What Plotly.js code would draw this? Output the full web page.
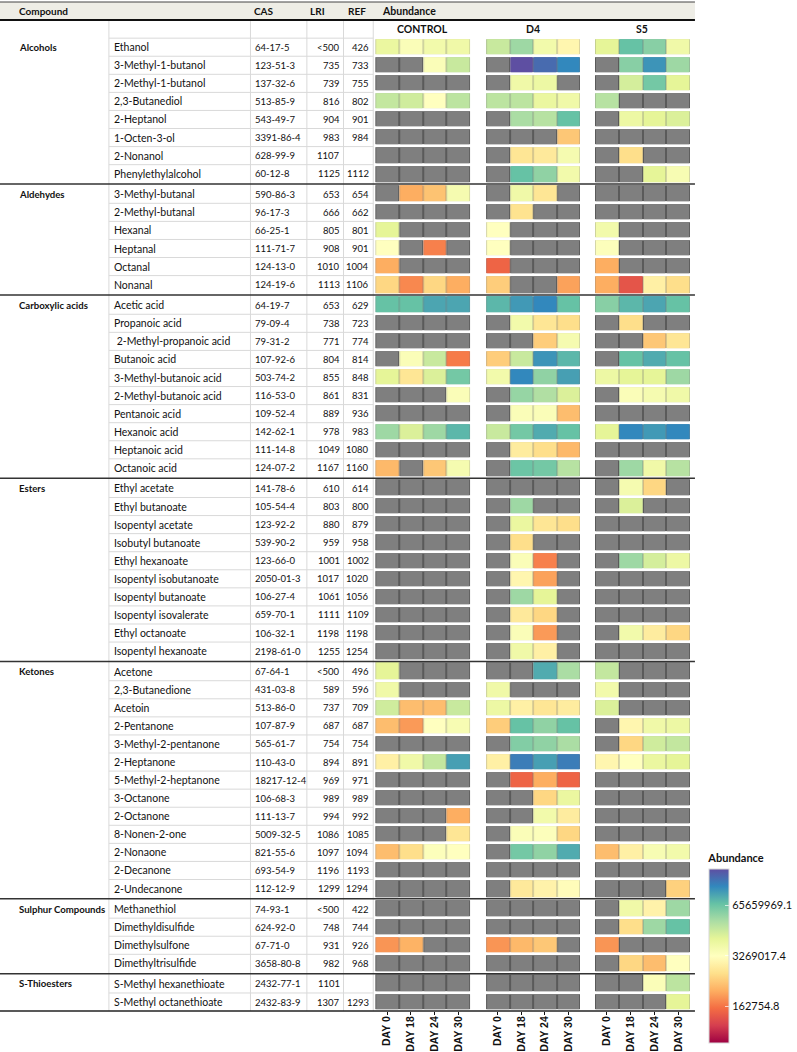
<!DOCTYPE html>
<html>
<head>
<meta charset="utf-8">
<script src="https://cdn.plot.ly/plotly-3.0.1.min.js"></script>
<style>
  html, body { margin: 0; padding: 0; background: #fff; overflow: hidden; }
  #chart { width: 797px; height: 1052px; }
</style>
</head>
<body>
<div id="chart"></div>
<script>
// Table + heatmap: volatile compounds, abundance per treatment and day
const n = null;

const categories = ['Alcohols', 'Aldehydes', 'Carboxylic acids', 'Esters', 'Ketones', 'Sulphur Compounds', 'S-Thioesters'];
const groupSizes = [8, 6, 10, 10, 13, 4, 2];

const compounds = [
  'Ethanol', '3-Methyl-1-butanol', '2-Methyl-1-butanol', '2,3-Butanediol', '2-Heptanol', '1-Octen-3-ol', '2-Nonanol', 'Phenylethylalcohol',
  '3-Methyl-butanal', '2-Methyl-butanal', 'Hexanal', 'Heptanal', 'Octanal', 'Nonanal',
  'Acetic acid', 'Propanoic acid', ' 2-Methyl-propanoic acid', 'Butanoic acid', '3-Methyl-butanoic acid', '2-Methyl-butanoic acid', 'Pentanoic acid', 'Hexanoic acid', 'Heptanoic acid', 'Octanoic acid',
  'Ethyl acetate', 'Ethyl butanoate', 'Isopentyl acetate', 'Isobutyl butanoate', 'Ethyl hexanoate', 'Isopentyl isobutanoate', 'Isopentyl butanoate', 'Isopentyl isovalerate', 'Ethyl octanoate', 'Isopentyl hexanoate',
  'Acetone', '2,3-Butanedione', 'Acetoin', '2-Pentanone', '3-Methyl-2-pentanone', '2-Heptanone', '5-Methyl-2-heptanone', '3-Octanone', '2-Octanone', '8-Nonen-2-one', '2-Nonaone', '2-Decanone', '2-Undecanone',
  'Methanethiol', 'Dimethyldisulfide', 'Dimethylsulfone', 'Dimethyltrisulfide',
  'S-Methyl hexanethioate', 'S-Methyl octanethioate'
];

const casNumbers = [
  '64-17-5', '123-51-3', '137-32-6', '513-85-9', '543-49-7', '3391-86-4', '628-99-9', '60-12-8',
  '590-86-3', '96-17-3', '66-25-1', '111-71-7', '124-13-0', '124-19-6',
  '64-19-7', '79-09-4', '79-31-2', '107-92-6', '503-74-2', '116-53-0', '109-52-4', '142-62-1', '111-14-8', '124-07-2',
  '141-78-6', '105-54-4', '123-92-2', '539-90-2', '123-66-0', '2050-01-3', '106-27-4', '659-70-1', '106-32-1', '2198-61-0',
  '67-64-1', '431-03-8', '513-86-0', '107-87-9', '565-61-7', '110-43-0', '18217-12-4', '106-68-3', '111-13-7', '5009-32-5', '821-55-6', '693-54-9', '112-12-9',
  '74-93-1', '624-92-0', '67-71-0', '3658-80-8',
  '2432-77-1', '2432-83-9'
];

const lriValues = [
  '<500', '735', '739', '816', '904', '983', '1107', '1125',
  '653', '666', '805', '908', '1010', '1113',
  '653', '738', '771', '804', '855', '861', '889', '978', '1049', '1167',
  '610', '803', '880', '959', '1001', '1017', '1061', '1111', '1198', '1255',
  '<500', '589', '737', '687', '754', '894', '969', '989', '994', '1086', '1097', '1196', '1299',
  '<500', '748', '931', '982',
  '1101', '1307'
];

const refValues = [
  '426', '733', '755', '802', '901', '984', '', '1112',
  '654', '662', '801', '901', '1004', '1106',
  '629', '723', '774', '814', '848', '831', '936', '983', '1080', '1160',
  '614', '800', '879', '958', '1002', '1020', '1056', '1109', '1198', '1254',
  '496', '596', '709', '687', '754', '891', '971', '989', '992', '1085', '1094', '1193', '1294',
  '422', '744', '926', '968',
  '', '1293'
];

const days = ['DAY 0', 'DAY 18', 'DAY 24', 'DAY 30'];
const treatments = ['CONTROL', 'D4', 'S5'];

// log10(abundance) read from the colours; null = not detected (grey)
const controlLog = [
  [6.87, 6.60, 6.74, 6.78], [n, n, 6.60, 7.19], [n, n, n, n], [7.23, 7.14, 6.51, 7.28], [n, n, n, n], [n, n, n, n], [n, n, n, n], [n, n, n, n],
  [n, 5.62, 5.80, 6.69], [n, n, n, n], [6.96, n, n, n], [6.51, n, 5.30, n], [5.62, n, n, n], [5.98, 5.35, 5.98, 5.62],
  [7.86, 7.86, 8.09, 8.09], [n, n, n, n], [n, n, n, n], [n, 6.60, 7.19, 5.26], [6.96, 6.15, 7.05, 7.77], [n, n, n, 6.60], [n, n, n, n], [7.50, 7.05, 7.50, 7.95], [n, n, n, n], [5.71, n, 5.84, 6.69],
  [n, n, n, n], [n, n, n, n], [n, n, n, n], [n, n, n, n], [n, n, n, n], [n, n, n, n], [n, n, n, n], [n, n, n, n], [n, n, n, n], [n, n, n, n],
  [6.96, n, n, n], [6.78, n, n, n], [7.14, 5.75, 5.75, 7.19], [5.75, 5.48, 6.51, 6.65], [n, n, n, n], [6.29, 6.78, 7.23, 8.13], [n, n, n, n], [n, n, n, n], [n, n, n, 5.62], [n, n, n, 6.15], [5.75, 6.06, 6.56, 6.51], [n, n, n, n], [n, n, n, n],
  [n, n, n, n], [n, n, n, n], [5.44, 5.66, n, n], [n, n, n, n],
  [n, n, n, n], [n, n, n, n]
];

const d4Log = [
  [7.19, 7.50, 6.74, 6.38], [n, 8.76, 8.54, 8.31], [n, 6.78, 6.83, n], [7.28, 7.28, 6.87, 6.78], [n, 7.41, 7.32, 7.86], [n, n, n, 5.84], [n, 6.15, 6.20, 6.69], [n, 7.86, 7.59, 6.74],
  [n, 6.78, 6.15, n], [n, 6.11, n, n], [6.51, n, n, n], [6.51, n, n, n], [5.08, n, n, n], [5.89, n, n, 5.53],
  [7.95, 8.18, 8.31, 7.86], [n, 6.74, 6.15, 6.06], [n, n, 5.89, 6.69], [5.89, 7.19, 8.22, 7.95], [6.74, 8.31, 7.59, 8.13], [n, 7.55, 7.37, 7.05], [n, 6.60, 6.60, 5.75], [7.19, 7.77, 8.04, 7.86], [n, 6.24, 6.06, 5.71], [n, 7.82, 7.77, 7.32],
  [n, n, n, n], [n, 7.50, n, n], [n, 6.87, 6.15, 6.06], [n, 6.06, n, n], [n, 6.60, 5.30, n], [n, 6.38, 5.53, n], [n, 7.50, 6.96, n], [n, 6.20, 5.98, n], [n, 6.60, 5.48, n], [n, 6.78, 6.29, n],
  [n, n, 8.04, 7.41], [6.78, n, n, n], [6.83, 6.29, 6.15, 6.24], [5.89, 7.86, 7.59, 7.86], [n, 7.68, 7.59, 7.41], [6.29, 8.40, 8.13, 8.40], [n, 5.08, 5.62, 5.08], [n, n, 5.98, 6.87], [n, n, 6.74, 6.24], [n, 6.60, 6.56, 5.98], [n, 7.77, 7.59, 8.04], [n, n, n, n], [n, 6.20, 6.33, 6.47],
  [n, n, n, n], [n, n, n, n], [5.44, 5.71, 5.84, n], [n, n, n, n],
  [n, n, n, n], [n, n, n, n]
];

const s5Log = [
  [6.96, 7.86, 7.64, 6.78], [n, 7.64, 8.22, 7.50], [n, 7.10, 7.77, 6.96], [7.32, n, n, n], [n, 6.83, 6.96, 7.05], [n, n, n, n], [n, 6.06, n, n], [n, n, 6.96, 6.65],
  [n, n, n, n], [n, n, n, n], [6.74, n, n, n], [6.56, n, n, n], [5.62, n, n, n], [5.62, 4.94, 6.29, 6.06],
  [7.64, 7.95, 8.09, 7.86], [n, 6.06, n, n], [n, n, 5.84, 6.15], [n, 7.86, 8.04, 7.86], [6.83, 6.96, 6.96, 7.50], [n, 6.60, 6.69, 6.78], [n, n, n, n], [6.96, 8.31, 8.18, 8.31], [n, n, n, n], [n, 7.50, 6.78, 7.32],
  [n, 6.69, 5.98, n], [n, 7.05, n, n], [n, n, n, n], [n, n, n, n], [n, 7.50, 7.10, 6.83], [n, n, n, n], [n, n, n, n], [n, n, n, n], [n, 6.74, 6.24, 5.98], [n, n, n, n],
  [7.23, n, n, n], [6.74, n, n, n], [7.05, n, n, n], [n, 6.38, 6.78, 6.83], [n, 5.98, 7.14, 7.23], [6.38, 6.51, 6.87, 6.96], [n, n, n, n], [n, n, n, n], [n, n, n, n], [n, n, n, n], [5.75, 6.29, 6.65, 6.74], [n, n, n, n], [n, n, n, 5.93],
  [n, 6.78, 6.33, 7.50], [n, 6.06, 7.50, 7.86], [5.44, n, n, n], [n, 5.98, 5.75, 6.51],
  [n, n, 6.60, 7.28], [n, n, n, 6.96]
];

const colorbarTicks = [162754.8, 3269017.4, 65659969.1];

// ---- layout constants (pixels) ----
const W = 797, H = 1052;
const ROW_PX = 18.07, ROW0_PX = 47.2, PLOT_BOTTOM = 1011;
const GROUP_GAP = 0.14;
const Y_TOP = -ROW0_PX / ROW_PX;
const Y_BOTTOM = (PLOT_BOTTOM - ROW0_PX) / ROW_PX;
const Z_MIN = 4.268, Z_MAX = 8.76;
const GROUP_PX = [[379, 475], [491, 586], [601, 697]];
const TABLE_RIGHT = 702;
const COL_LINES = [110, 253, 310, 347, 377];

const SPECTRAL = ['#9e0142', '#d53e4f', '#f46d43', '#fdae61', '#fee08b', '#ffffbf', '#e6f598', '#abdda4', '#66c2a5', '#3288bd', '#5e4fa2'];
const escala = SPECTRAL.map((c, i) => [i / 10, c]);

function mezclar(hex, gris, t) {
  const r = parseInt(hex.slice(1, 3), 16), g = parseInt(hex.slice(3, 5), 16), b = parseInt(hex.slice(5, 7), 16);
  const m = v => Math.round(v * (1 - t) + gris * t);
  return `rgb(${m(r)},${m(g)},${m(b)})`;
}
const escalaBorde = SPECTRAL.map((c, i) => [i / 10, mezclar(c, 120, 0.3)]);

// row positions with a small extra space between compound classes
const rowY = [];
const groupFirst = [];
let idx = 0;
groupSizes.forEach((size, gi) => {
  groupFirst.push(idx);
  for (let k = 0; k < size; k++) {
    rowY.push(idx + gi * GROUP_GAP);
    idx++;
  }
});

const FONT = 'Lato, "Open Sans", sans-serif';
const traces = [];
const series = [controlLog, d4Log, s5Log];

series.forEach((z, gi) => {
  const xa = gi === 0 ? 'x' : 'x' + (gi + 1);
  const missing = z.map(r => r.map(v => (v === null ? 1 : null)));
  const base = { type: 'heatmap', x: days, y: rowY, xaxis: xa, yaxis: 'y', ygap: 3, hoverinfo: 'skip', showscale: false };
  traces.push({ ...base, z: missing, colorscale: [[0, '#5a5a5a'], [1, '#5a5a5a']], xgap: 0 });
  traces.push({ ...base, z: missing, colorscale: [[0, '#7f7f7f'], [1, '#7f7f7f']], xgap: 2 });
  traces.push({ ...base, z: z, colorscale: escalaBorde, zmin: Z_MIN, zmax: Z_MAX, xgap: 0 });
  const datos = { ...base, z: z, colorscale: escala, zmin: Z_MIN, zmax: Z_MAX, xgap: 2 };
  if (gi === 0) {
    datos.showscale = true;
    datos.colorbar = {
      x: 716 / W, xanchor: 'left', xpad: 0, ypad: 0,
      y: (PLOT_BOTTOM - 1043) / PLOT_BOTTOM, yanchor: 'bottom',
      thickness: 20, lenmode: 'pixels', len: 192,
      outlinewidth: 1, outlinecolor: '#d8d8d8',
      tickvals: colorbarTicks.map(v => Math.log10(v)),
      ticktext: colorbarTicks.map(v => v.toFixed(1)),
      ticks: 'inside', ticklen: 4, tickcolor: 'rgba(255,255,255,0.7)',
      tickfont: { family: FONT, size: 11, color: '#111' },
      title: { text: 'Abundance', side: 'top', font: { family: FONT, size: 11, color: '#111', weight: 'bold' } },
    };
  }
  traces.push(datos);
});

// dummy trace so the table axis exists
traces.push({ type: 'scatter', x: [0], y: [0], xaxis: 'x4', yaxis: 'y', mode: 'markers', marker: { opacity: 0 }, hoverinfo: 'skip' });

const esc = s => s.replace(/</g, '&lt;');
const annotations = [];
const txt = (x, y, text, anchor, size, weight) => annotations.push({
  xref: 'x4', yref: 'y', x, y, text: esc(text), xanchor: anchor, yanchor: 'middle', showarrow: false,
  font: { family: FONT, size, color: '#111', weight: weight || 'normal' },
});

// header
const HEADER_Y = (11 - ROW0_PX) / ROW_PX;
txt(17, HEADER_Y, 'Compound', 'left', 10, 'bold');
txt(255, HEADER_Y, 'CAS', 'left', 10, 'bold');
txt(311, HEADER_Y, 'LRI', 'left', 10, 'bold');
txt(349, HEADER_Y, 'REF', 'left', 10, 'bold');
txt(384, HEADER_Y, 'Abundance', 'left', 10.5, 'bold');

// table rows
compounds.forEach((name, i) => {
  txt(113, rowY[i], name, 'left', 10.5);
  txt(256, rowY[i], casNumbers[i], 'left', 9.5);
  txt(345, rowY[i], lriValues[i], 'right', 9.5);
  txt(375, rowY[i], refValues[i], 'right', 9.5);
});
categories.forEach((cat, gi) => txt(17, rowY[groupFirst[gi]], cat, 'left', 9.6, 'bold'));

// treatment labels over each block
treatments.forEach((t, gi) => annotations.push({
  xref: gi === 0 ? 'x' : 'x' + (gi + 1), yref: 'y', x: 1.5, y: -1, text: t, showarrow: false,
  xanchor: 'center', yanchor: 'middle', font: { family: FONT, size: 10.5, color: '#111', weight: 'bold' },
}));

// grid lines and separators
const shapes = [];
const linea = (x0, x1, y0, y1, color, width, yref) => shapes.push({
  type: 'line', xref: 'x4', yref: yref || 'y', x0, x1, y0, y1, line: { color, width }, layer: 'above',
});
const Y_HEAD_TOP = (2 - ROW0_PX) / ROW_PX;
const Y_HEAD_BOT = -1.5;
shapes.push({ type: 'rect', xref: 'x4', yref: 'y', x0: 0, x1: TABLE_RIGHT, y0: Y_HEAD_TOP, y1: Y_HEAD_BOT, fillcolor: '#eeede6', line: { width: 0 }, layer: 'below' });
linea(0, TABLE_RIGHT, Y_HEAD_TOP, Y_HEAD_TOP, '#444', 1);

const lastRow = rowY.length - 1;
const separators = groupFirst.slice(1).map(f => (rowY[f - 1] + rowY[f]) / 2);
// light horizontal lines of the table
linea(COL_LINES[0], COL_LINES[4], -0.5, -0.5, '#d9d9d9', 1);
for (let i = 0; i < lastRow; i++) {
  if (groupFirst.includes(i + 1)) continue;
  const y = (rowY[i] + rowY[i + 1]) / 2;
  linea(COL_LINES[0], COL_LINES[4], y, y, '#d9d9d9', 1);
}
COL_LINES.forEach(x => linea(x, x, Y_HEAD_BOT, Y_BOTTOM, '#d9d9d9', 1));
separators.forEach(y => linea(0, TABLE_RIGHT, y, y, '#333', 1.5));
linea(0, TABLE_RIGHT, Y_HEAD_BOT, Y_HEAD_BOT, '#111', 2);
linea(0, TABLE_RIGHT, 0, 0, '#222', 1.5, 'paper');

const ejeX = gi => ({
  domain: [GROUP_PX[gi][0] / W, GROUP_PX[gi][1] / W],
  anchor: 'y', type: 'category', range: [-0.5, 3.5], autorange: false,
  tickangle: -90, ticks: 'outside', ticklen: 3, tickcolor: '#111', tickwidth: 1,
  ticklabelstandoff: -3,
  tickfont: { family: '"Liberation Sans", Arial, sans-serif', size: 10.5, color: '#111', weight: 'bold' },
  showgrid: false, zeroline: false, showline: false, automargin: false, fixedrange: true,
});

const layout = {
  width: W, height: H,
  margin: { l: 0, r: 0, t: 0, b: H - PLOT_BOTTOM, pad: 0 },
  paper_bgcolor: '#fff', plot_bgcolor: 'rgba(0,0,0,0)',
  showlegend: false,
  xaxis: ejeX(0), xaxis2: ejeX(1), xaxis3: ejeX(2),
  xaxis4: { domain: [0, 1], anchor: 'y', range: [0, W], autorange: false, visible: false, fixedrange: true },
  yaxis: { range: [Y_BOTTOM, Y_TOP], autorange: false, visible: false, fixedrange: true },
  annotations, shapes,
};

Plotly.newPlot('chart', traces, layout, { displayModeBar: false, staticPlot: true });
</script>
</body>
</html>
